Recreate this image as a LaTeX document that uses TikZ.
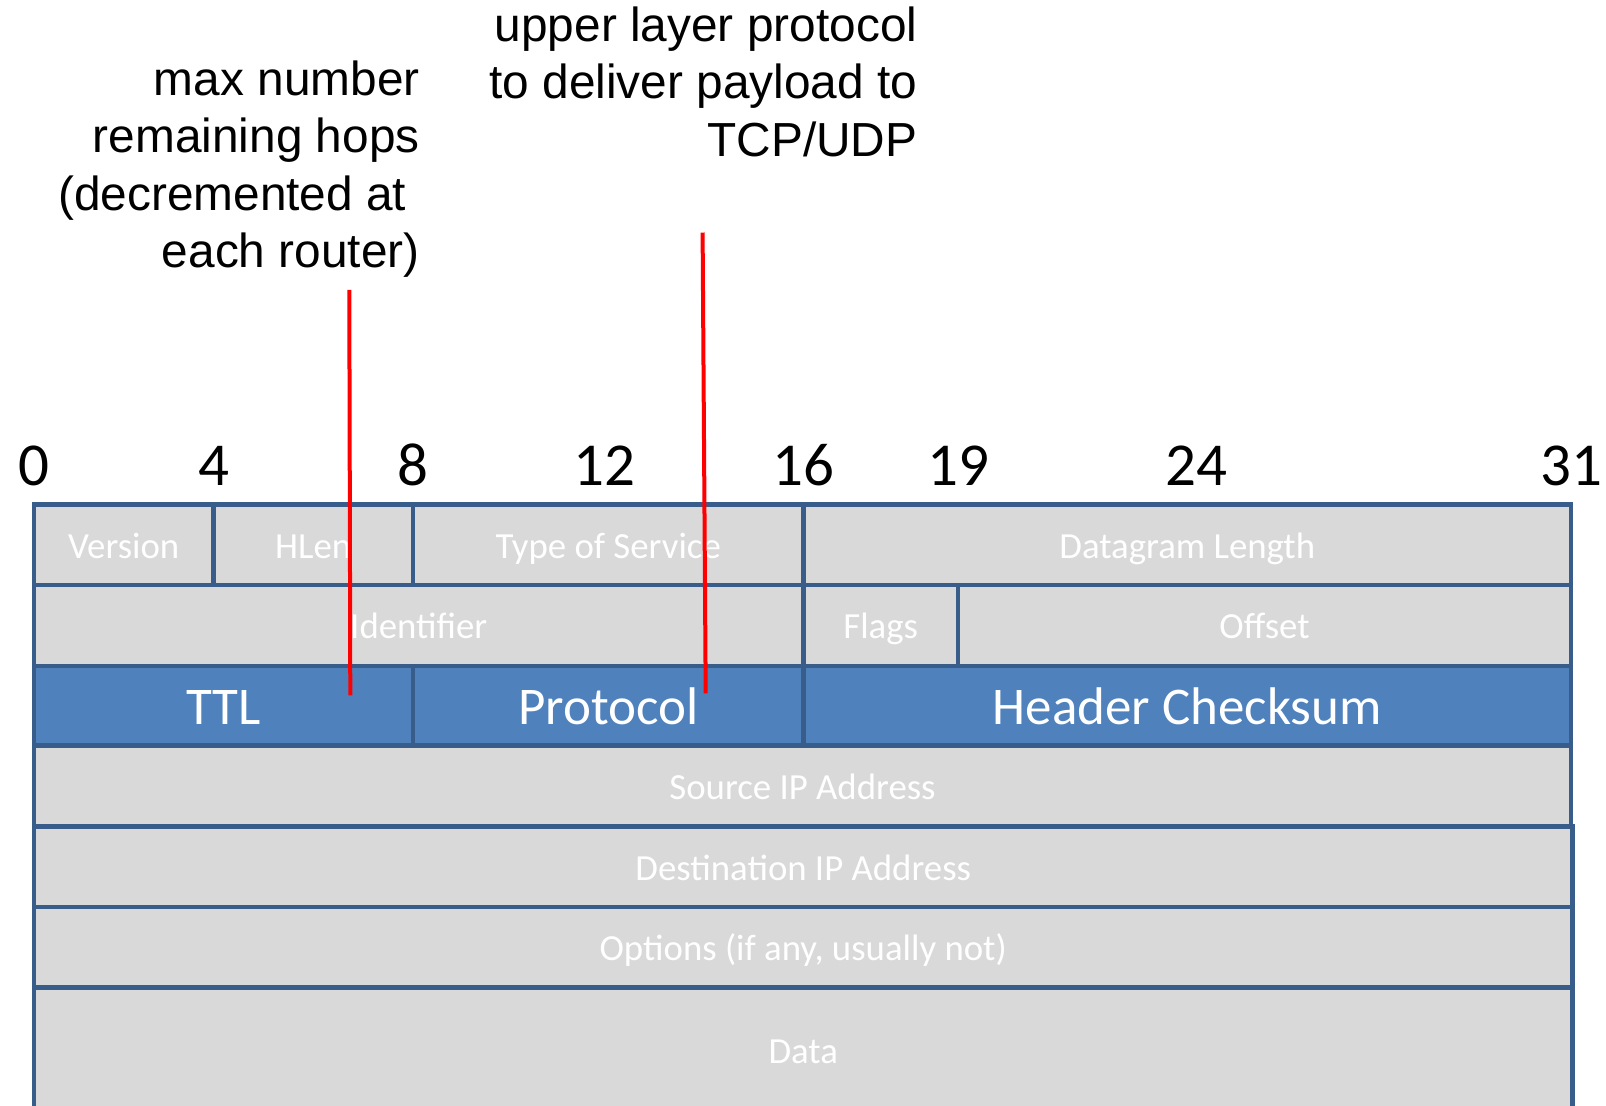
\documentclass[tikz,border=0pt]{standalone}
\usepackage{fontspec}
\setmainfont{Carlito}
\newfontfamily\notefont{Liberation Sans}
\definecolor{cellgray}{HTML}{D9D9D9}
\definecolor{cellblue}{HTML}{4F81BD}
\definecolor{cellline}{HTML}{385D8A}

% one header field: name, x-left, x-right, y-top, y-bottom, style, label
\newcommand\fieldbox[7]{%
  \node[#6, minimum width={(#3-#2)*0.5pt}, minimum height={(#5-#4)*0.5pt}]
    (#1) at ({(#2+#3)/2},{(#4+#5)/2}) {#7};}

\begin{document}
\begin{tikzpicture}[x=0.5pt,y=-0.5pt,
  field/.style={draw=cellline, line width=2.2pt, inner sep=0pt, outer sep=0pt,
    text=white, text depth=0pt},
  plainfield/.style={field, fill=cellgray, text height=13.6pt,
    font=\fontsize{18.4}{22}\selectfont},
  keyfield/.style={field, fill=cellblue, text height=18.8pt,
    font=\fontsize{26.5}{31}\selectfont},
  bitno/.style={font=\fontsize{30.5}{36}\selectfont, text=black, anchor=base,
    inner sep=0pt},
  note/.style={font=\notefont\fontsize{23.9}{28.7}\selectfont, align=right,
    inner sep=0pt, anchor=north east},
  pointer/.style={draw=red, line width=2pt}]

\useasboundingbox (0,0) rectangle (1606,1105);
\clip (0,0) rectangle (1606,1105);

% bit positions
\node[bitno] (b0)  at (34,485.7)   {0};
\node[bitno] (b4)  at (213.5,485.7) {4};
\node[bitno] (b8)  at (413,485.7)  {8};
\node[bitno] (b12) at (604,485.7)  {12};
\node[bitno] (b16) at (803.5,485.7) {16};
\node[bitno] (b19) at (958,485.7)  {19};
\node[bitno] (b24) at (1196,485.7) {24};
\node[bitno] (b31) at (1571,485.7) {31};

% row 1
\fieldbox{ver}{34}{213.5}{504.5}{585}{plainfield}{Version}
\fieldbox{hlen}{213.5}{413}{504.5}{585}{plainfield}{HLen}
\fieldbox{tos}{413}{803.5}{504.5}{585}{plainfield}{Type of Service}
\fieldbox{len}{803.5}{1571}{504.5}{585}{plainfield}{Datagram Length}
% row 2
\fieldbox{ident}{34}{803.5}{585}{665.7}{plainfield}{Identifier}
\fieldbox{flags}{803.5}{958}{585}{665.7}{plainfield}{Flags}
\fieldbox{offset}{958}{1571}{585}{665.7}{plainfield}{Offset}
% row 3
\fieldbox{ttl}{34}{413}{665.7}{745.6}{keyfield}{TTL}
\fieldbox{proto}{413}{803.5}{665.7}{745.6}{keyfield}{Protocol}
\fieldbox{csum}{803.5}{1571}{665.7}{745.6}{keyfield}{Header Checksum}
% remaining rows
\fieldbox{src}{34}{1571}{745.6}{826.6}{plainfield}{Source IP Address}
\fieldbox{dst}{34}{1572.5}{826.6}{907.2}{plainfield}{Destination IP Address}
\fieldbox{opts}{34}{1572.5}{907.2}{987.5}{plainfield}{Options (if any, usually not)}
\fieldbox{data}{34}{1572.5}{987.5}{1112}{plainfield}{Data}

% annotations
\node[note] (ttlnote) at (420,60.3)
  {max number\\remaining hops\\(decremented at\makebox[0.28em]{}\\each router)};
\node[note] (protonote) at (917.7,6.5)
  {upper layer protocol\\to deliver payload to\\TCP/UDP};

\coordinate (ttltop) at (349.3,289.8);
\coordinate (ttlend) at (350.3,695.4);
\coordinate (prototop) at (702.6,232.5);
\coordinate (protoend) at (705.7,693.4);
\draw[pointer] (ttltop) -- (ttlend);
\draw[pointer] (prototop) -- (protoend);
\end{tikzpicture}
\end{document}
